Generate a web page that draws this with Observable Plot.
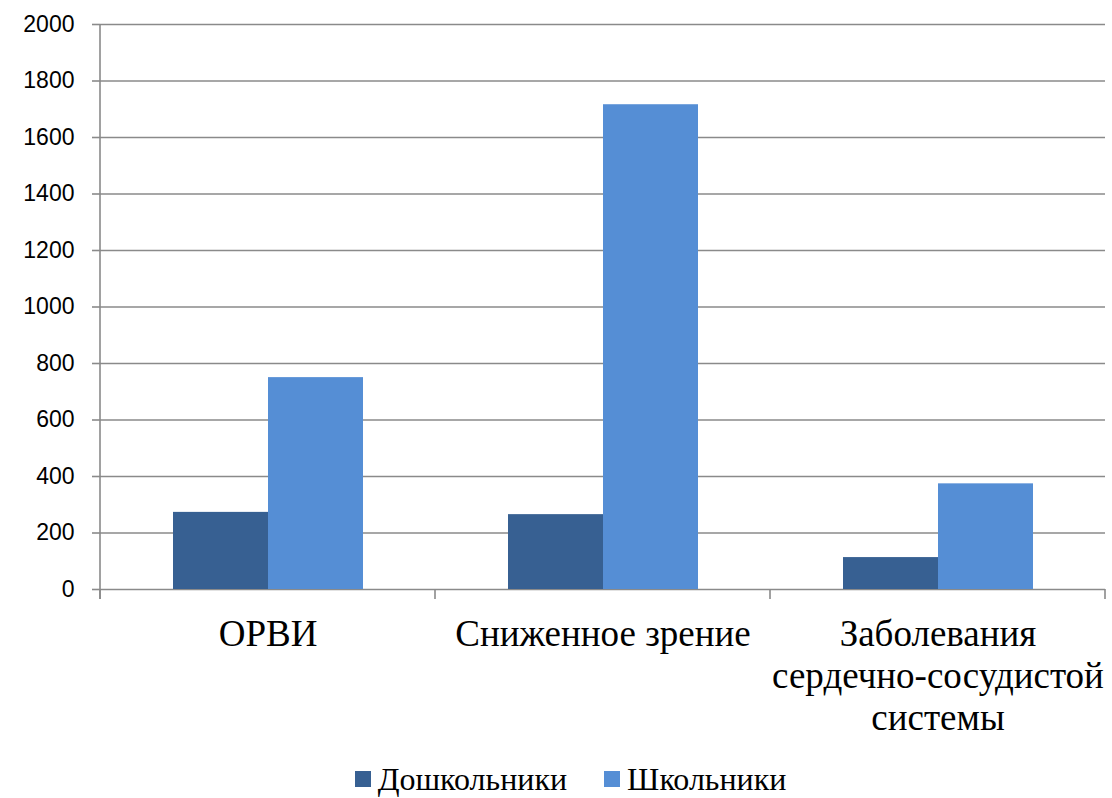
<!DOCTYPE html>
<html><head><meta charset="utf-8">
<script src="https://cdn.jsdelivr.net/npm/d3@7"></script>
<script src="https://cdn.jsdelivr.net/npm/@observablehq/plot@0.6"></script>
<style>
body{margin:0;background:#fff;}
#legend{display:flex;justify-content:center;align-items:center;gap:37px;font-family:"Liberation Serif","Times New Roman",serif;font-size:32px;color:#000;height:36px;margin-top:1px;line-height:36px;padding-left:29px;}
#legend .item{display:flex;align-items:center;gap:7px;}
#legend .sw{width:16px;height:16px;display:inline-block;}
</style></head>
<body><div id="chart"></div><div id="legend"></div>
<script>
const categories = ["ОРВИ", "Сниженное зрение", "Заболевания\nсердечно-сосудистой\nсистемы"];
const seriesNames = ["Дошкольники", "Школьники"];
const preschool = [273, 265, 113];
const school = [750, 1716, 374];
const yTicks = [0, 200, 400, 600, 800, 1000, 1200, 1400, 1600, 1800, 2000];
const colors = ["#376092", "#558ED5"];

const data = [];
categories.forEach((c, i) => {
  data.push({cat: c, series: seriesNames[0], value: preschool[i]});
  data.push({cat: c, series: seriesNames[1], value: school[i]});
});

const plot = Plot.plot({
  width: 1112, height: 760,
  marginLeft: 99, marginRight: 7, marginTop: 24, marginBottom: 171,
  style: {fontFamily: "'Liberation Sans', Arial, sans-serif", background: "#fff", color: "#000"},
  fx: {domain: categories, padding: 0, label: null},
  x: {domain: seriesNames, paddingInner: 0, paddingOuter: 0.76, axis: null},
  y: {domain: [0, 2000], label: null},
  color: {domain: seriesNames, range: colors},
  marks: [
    Plot.gridY(yTicks, {stroke: "#8a8a8a", strokeOpacity: 1, strokeWidth: 1.6}),
    Plot.barY(data, {fx: "cat", x: "series", y: "value", fill: "series"}),
    Plot.axisY(yTicks, {tickSize: 8, tickPadding: 18, tickFormat: d => String(d), stroke: "#8a8a8a", strokeWidth: 1.6, fontSize: 23, fill: "#000", label: null}),
    Plot.axisFx({anchor: "bottom", tickSize: 0, tickPadding: 27, fontSize: 37, lineHeight: 1.13, fontFamily: "'Liberation Serif', 'Times New Roman', serif", fill: "#000", label: null})
  ]
});
document.getElementById("chart").appendChild(plot);

// axis line and category boundary ticks from the scales
const fx = plot.scale("fx"), y = plot.scale("y");
const svg = d3.select(plot);
const y0 = y.apply(0), yTop = y.apply(2000);
const bounds = categories.map(c => fx.apply(c));
bounds.push(fx.apply(categories[categories.length - 1]) + fx.bandwidth);
const g = svg.append("g").attr("stroke", "#8a8a8a").attr("stroke-width", 1.6);
g.append("line").attr("x1", bounds[0]).attr("x2", bounds[0]).attr("y1", yTop).attr("y2", y0 + 10);
bounds.forEach(b => g.append("line").attr("x1", b).attr("x2", b).attr("y1", y0).attr("y2", y0 + 10));

const legend = d3.select("#legend");
seriesNames.forEach((s, i) => {
  const it = legend.append("div").attr("class", "item");
  it.append("span").attr("class", "sw").style("background", colors[i]);
  it.append("span").text(s);
});
</script></body></html>
